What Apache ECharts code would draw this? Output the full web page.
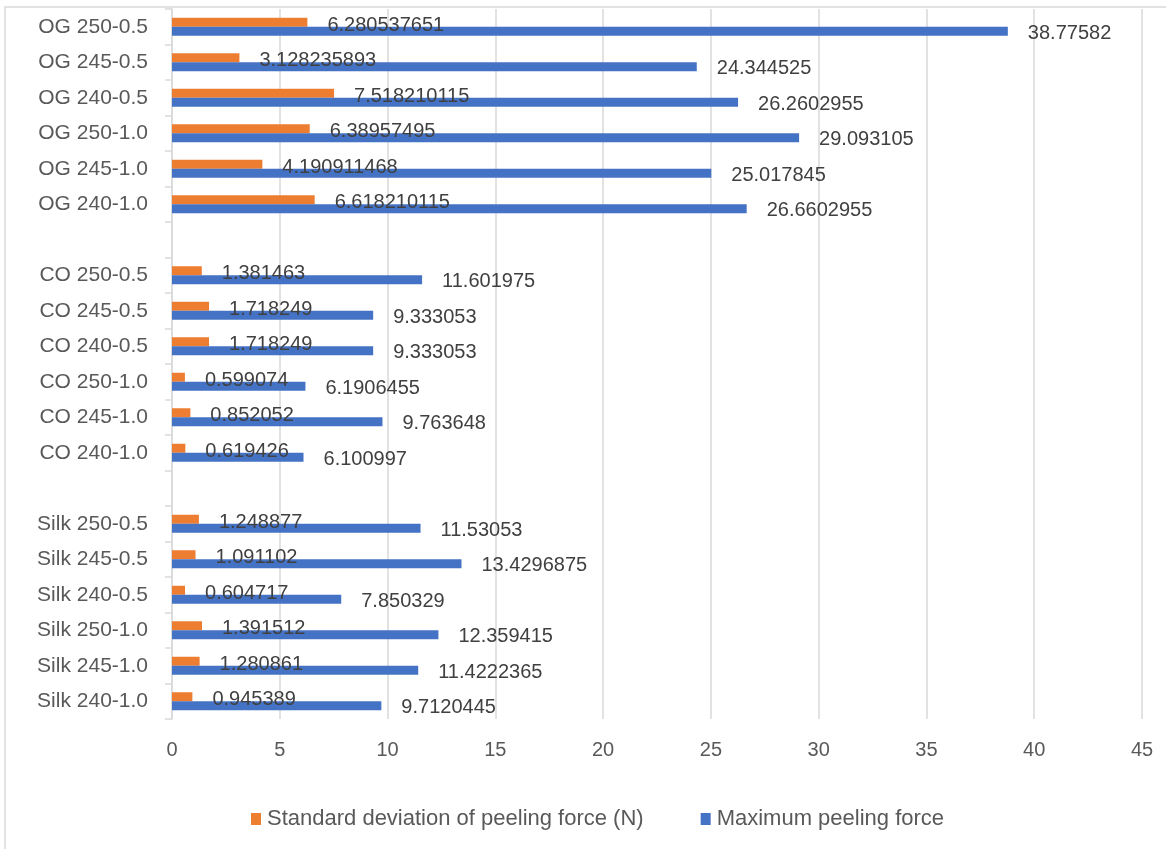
<!DOCTYPE html>
<html>
<head>
<meta charset="utf-8">
<script src="https://cdn.jsdelivr.net/npm/echarts@6/dist/echarts.min.js"></script>
<style>html,body{margin:0;padding:0;background:#fff}#c{width:1166px;height:849px}</style>
</head>
<body>
<div id="c"></div>
<script>
// Categories, bottom to top
var categories = ['Silk 240-1.0','Silk 245-1.0','Silk 250-1.0','Silk 240-0.5','Silk 245-0.5','Silk 250-0.5',' ',
  'CO 240-1.0','CO 245-1.0','CO 250-1.0','CO 240-0.5','CO 245-0.5','CO 250-0.5','  ',
  'OG 240-1.0','OG 245-1.0','OG 250-1.0','OG 240-0.5','OG 245-0.5','OG 250-0.5'];
var stdDev = [0.945389, 1.280861, 1.391512, 0.604717, 1.091102, 1.248877, null,
  0.619426, 0.852052, 0.599074, 1.718249, 1.718249, 1.381463, null,
  6.618210115, 4.190911468, 6.38957495, 7.518210115, 3.128235893, 6.280537651];
var maxForce = [9.7120445, 11.4222365, 12.359415, 7.850329, 13.4296875, 11.53053, null,
  6.100997, 9.763648, 6.1906455, 9.333053, 9.333053, 11.601975, null,
  26.6602955, 25.017845, 29.093105, 26.2602955, 24.344525, 38.77582];
var xTicks = {min: 0, max: 45, interval: 5};
var seriesNames = ['Standard deviation of peeling force (N)', 'Maximum peeling force'];

var FONT = 'Liberation Sans';
var chart = echarts.init(document.getElementById('c'));
function lbl(dy) {
  return {show: true, position: 'right', distance: 20, fontSize: 20, fontFamily: FONT, color: '#404040',
    offset: [0, dy], formatter: function (p) { return p.value == null ? '' : String(p.value); }};
}
chart.setOption({
  animation: false,
  backgroundColor: '#fff',
  graphic: [{type: 'rect', shape: {x: 5, y: 7, width: 1200, height: 900},
    style: {fill: 'none', stroke: '#d9d9d9', lineWidth: 1.5}, silent: true, z: -10}],
  legend: {
    bottom: 14, left: 246, itemWidth: 10, itemHeight: 12, itemGap: 57, icon: 'rect',
    textStyle: {fontSize: 22, fontFamily: FONT, color: '#595959', padding: [0, 0, 0, 1]},
    data: seriesNames
  },
  grid: {left: 172, right: 24, top: 9, bottom: 130},
  xAxis: {
    type: 'value', min: xTicks.min, max: xTicks.max, interval: xTicks.interval,
    axisLine: {show: false}, axisTick: {show: false},
    splitLine: {lineStyle: {color: '#d9d9d9', width: 1.5}},
    axisLabel: {fontSize: 20, fontFamily: FONT, color: '#595959', margin: 21}
  },
  yAxis: {
    type: 'category', data: categories,
    axisLine: {lineStyle: {color: '#d9d9d9', width: 1.5}},
    axisTick: {show: true, length: 7, lineStyle: {color: '#d9d9d9', width: 1.5}},
    axisLabel: {fontSize: 21, fontFamily: FONT, color: '#595959', margin: 24}
  },
  series: [
    {name: seriesNames[0], type: 'bar', data: stdDev, barWidth: 9, barGap: '0%',
      itemStyle: {color: '#ED7D31'}, label: lbl(3)},
    {name: seriesNames[1], type: 'bar', data: maxForce, barWidth: 9, barGap: '0%',
      itemStyle: {color: '#4472C4'}, label: lbl(2)}
  ]
});
</script>
</body>
</html>
